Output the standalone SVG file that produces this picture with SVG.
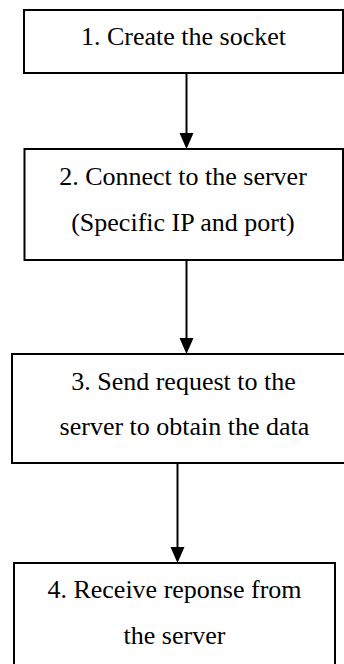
<svg xmlns="http://www.w3.org/2000/svg" width="344" height="664" viewBox="0 0 344 664">
  <style>
    .box { fill: #ffffff; stroke: #000000; stroke-width: 2; }
    .edge { stroke: #000000; stroke-width: 2; fill: none; }
    .head { fill: #000000; stroke: none; }
    text { font-family: "Liberation Serif", "Times New Roman", serif; font-size: 26px; fill: #000000; text-anchor: middle; }
  </style>
  <rect width="344" height="664" fill="#ffffff"/>

  <g id="connectors">
    <line class="edge" x1="186.5" y1="73" x2="186.5" y2="136"/>
    <path class="head" d="M179.5,133 L193.5,133 L186.5,149 Z"/>
    <line class="edge" x1="186.5" y1="260" x2="186.5" y2="341"/>
    <path class="head" d="M179.5,338 L193.5,338 L186.5,354 Z"/>
    <line class="edge" x1="177.5" y1="463" x2="177.5" y2="550"/>
    <path class="head" d="M170.5,547 L184.5,547 L177.5,563 Z"/>
  </g>

  <g id="node1">
    <rect class="box" x="24" y="10" width="319" height="63"/>
    <text x="183.5" y="45">1. Create the socket</text>
  </g>

  <g id="node2">
    <rect class="box" x="24.5" y="149" width="318.5" height="111"/>
    <text x="183" y="185">2. Connect to the server</text>
    <text x="183" y="231">(Specific IP and port)</text>
  </g>

  <g id="node3">
    <rect class="box" x="12" y="354" width="343" height="109"/>
    <text x="183.5" y="390">3. Send request to the</text>
    <text x="184.5" y="435">server to obtain the data</text>
  </g>

  <g id="node4">
    <rect class="box" x="14" y="563" width="321" height="110"/>
    <text x="174.5" y="598">4. Receive reponse from</text>
    <text x="174.5" y="644">the server</text>
  </g>
</svg>
